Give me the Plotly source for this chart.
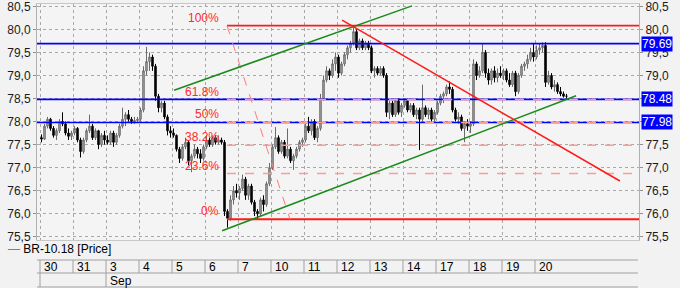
import plotly.graph_objects as go

# ---------------- data ----------------
days = ["30", "31", "3", "4", "5", "6", "7", "10", "11", "12", "13", "14", "17", "18", "19", "20"]
month_labels = ["", "Sep"]
month_first_day = [0, 2]
candles_per_day = 11

opens = [
    77.65, 77.62, 77.9, 78.05, 77.85, 77.7, 77.8, 78.0, 77.95, 77.75, 77.68,
    77.75, 77.85, 77.6, 77.35, 77.6, 77.8, 77.9, 77.65, 77.8, 77.5, 77.7,
    77.6, 77.55, 77.75, 77.55, 77.7, 77.9, 78.05, 78.15, 78.05, 78.0, 78.02,
    78.05, 78.25, 79.1, 79.3, 79.4, 79.2, 78.55, 78.3, 78.4, 78.1, 77.8,
    77.75, 77.7, 77.4, 77.2, 77.45, 77.55, 77.15, 77.25, 77.4, 77.3, 77.2,
    77.45, 77.6, 77.5, 77.65, 77.55, 77.6, 77.55, 76.05, 75.9, 76.3, 76.5,
    76.45, 76.55, 76.75, 76.4, 76.6, 76.25, 76.05, 76.0, 76.3, 76.2, 76.65,
    77.0, 77.45, 77.65, 77.35, 77.55, 77.25, 77.4, 77.15, 77.25, 77.4, 77.55,
    77.6, 77.9, 77.8, 78.0, 77.65, 77.85, 78.5, 78.9, 79.1, 79.0, 79.25,
    79.4, 79.05, 79.25, 79.45, 79.6, 79.7, 79.95, 79.6, 79.75, 79.6, 79.7,
    79.6, 79.1, 79.15, 79.05, 79.15, 79.0, 78.2, 78.4, 78.15, 78.45, 78.2,
    78.35, 78.45, 78.25, 78.35, 78.15, 78.25, 78.05, 78.3, 78.15, 78.25, 78.05,
    78.2, 78.4, 78.55, 78.6, 78.75, 78.7, 78.25, 78.05, 78.1, 77.85, 77.95,
    77.9, 77.95, 79.25, 79.0, 79.1, 79.5, 79.05, 78.9, 79.1, 78.95, 79.05,
    79.0, 79.1, 78.9, 78.8, 79.05, 78.65, 79.0, 79.2, 79.25, 79.35, 79.5,
    79.4, 79.55, 79.6, 79.65, 78.85, 79.0, 78.75, 78.8, 78.65, 78.6, 78.55,
]
highs = [
    77.72, 77.95, 78.1, 78.08, 77.9, 77.85, 78.05, 78.2, 78.0, 77.85, 77.8,
    77.9, 77.88, 77.65, 77.65, 77.85, 78.15, 77.95, 77.85, 77.82, 77.75, 77.8,
    77.7, 77.8, 77.8, 77.75, 77.95, 78.3, 78.2, 78.25, 78.1, 78.1, 78.1,
    78.3, 79.2, 79.62, 79.5, 79.45, 79.25, 78.6, 78.45, 78.45, 78.15, 77.9,
    77.85, 77.72, 77.45, 77.5, 77.65, 77.6, 77.3, 77.5, 77.45, 77.4, 77.5,
    77.7, 77.65, 77.7, 77.7, 77.7, 77.65, 77.6, 76.1, 76.4, 76.6, 76.65,
    76.6, 76.85, 76.8, 76.65, 76.65, 76.3, 76.1, 76.35, 76.4, 76.7, 77.1,
    77.5, 77.88, 77.7, 77.6, 77.6, 77.85, 77.45, 77.3, 77.45, 77.6, 77.65,
    77.95, 78.1, 78.05, 78.05, 77.9, 78.6, 79.0, 79.2, 79.15, 79.35, 79.5,
    79.45, 79.3, 79.5, 79.65, 79.75, 80.07, 80.0, 79.8, 79.8, 79.75, 79.75,
    79.65, 79.2, 79.2, 79.2, 79.2, 79.05, 78.45, 78.45, 78.5, 78.5, 78.4,
    78.5, 78.5, 78.4, 78.4, 78.3, 78.3, 78.8, 78.35, 78.3, 78.3, 78.25,
    78.45, 78.6, 78.65, 78.8, 78.87, 78.75, 78.3, 78.2, 78.15, 78.0, 78.05,
    78.0, 79.35, 79.3, 79.2, 79.7, 79.55, 79.15, 79.15, 79.2, 79.15, 79.2,
    79.15, 79.15, 79.05, 79.1, 79.1, 79.05, 79.25, 79.3, 79.45, 79.6, 79.68,
    79.65, 79.7, 79.72, 79.72, 79.1, 79.05, 78.9, 78.85, 78.75, 78.65, 78.6,
]
lows = [
    77.55, 77.6, 77.85, 77.8, 77.65, 77.6, 77.75, 77.9, 77.7, 77.6, 77.6,
    77.7, 77.55, 77.22, 77.3, 77.55, 77.75, 77.6, 77.6, 77.4, 77.45, 77.5,
    77.5, 77.5, 77.45, 77.5, 77.65, 77.85, 77.9, 78.0, 77.95, 77.95, 77.98,
    78.0, 78.2, 79.0, 79.1, 79.1, 78.45, 78.2, 78.2, 78.05, 77.7, 77.65,
    77.65, 77.35, 77.1, 77.15, 77.4, 77.05, 76.9, 77.2, 77.2, 77.1, 77.15,
    77.4, 77.45, 77.45, 77.5, 77.5, 77.5, 75.95, 75.7, 75.85, 76.2, 76.35,
    76.3, 76.5, 76.3, 76.3, 76.2, 75.95, 75.88, 75.95, 76.05, 76.15, 76.6,
    76.95, 77.4, 77.3, 77.3, 77.2, 77.2, 77.1, 76.95, 77.2, 77.35, 77.45,
    77.55, 77.75, 77.7, 77.6, 77.55, 77.8, 78.45, 78.85, 78.9, 78.95, 79.1,
    78.95, 79.0, 79.2, 79.35, 79.5, 79.65, 79.55, 79.55, 79.55, 79.55, 79.55,
    79.05, 78.95, 79.0, 79.0, 78.95, 78.1, 78.05, 78.1, 78.1, 78.15, 78.1,
    78.3, 78.2, 78.2, 78.1, 78.05, 77.38, 78.0, 78.1, 78.05, 78.0, 78.0,
    78.15, 78.35, 78.4, 78.55, 78.6, 78.2, 78.0, 77.95, 77.8, 77.55, 77.8,
    77.75, 77.9, 78.9, 78.95, 79.05, 78.95, 78.8, 78.8, 78.85, 78.85, 78.95,
    78.9, 78.85, 78.75, 78.75, 78.55, 78.6, 78.95, 79.1, 79.15, 79.3, 79.3,
    79.35, 79.45, 79.5, 78.75, 78.8, 78.7, 78.65, 78.6, 78.55, 78.52, 78.5,
]
closes = [
    77.62, 77.9, 78.05, 77.85, 77.7, 77.8, 78.0, 77.95, 77.75, 77.68, 77.75,
    77.85, 77.6, 77.35, 77.6, 77.8, 77.9, 77.65, 77.8, 77.5, 77.7, 77.6,
    77.55, 77.75, 77.55, 77.7, 77.9, 78.05, 78.15, 78.05, 78.0, 78.02, 78.05,
    78.25, 79.1, 79.3, 79.4, 79.2, 78.55, 78.3, 78.4, 78.1, 77.8, 77.75,
    77.7, 77.4, 77.2, 77.45, 77.55, 77.15, 77.25, 77.4, 77.3, 77.2, 77.45,
    77.6, 77.5, 77.65, 77.55, 77.6, 77.55, 76.05, 75.9, 76.3, 76.5, 76.45,
    76.55, 76.75, 76.4, 76.6, 76.25, 76.05, 76.0, 76.3, 76.2, 76.65, 77.0,
    77.45, 77.65, 77.35, 77.55, 77.25, 77.4, 77.15, 77.25, 77.4, 77.55, 77.6,
    77.9, 77.8, 78.0, 77.65, 77.85, 78.5, 78.9, 79.1, 79.0, 79.25, 79.4,
    79.05, 79.25, 79.45, 79.6, 79.7, 79.95, 79.6, 79.75, 79.6, 79.7, 79.6,
    79.1, 79.15, 79.05, 79.15, 79.0, 78.2, 78.4, 78.15, 78.45, 78.2, 78.35,
    78.45, 78.25, 78.35, 78.15, 78.25, 78.05, 78.3, 78.15, 78.25, 78.05, 78.2,
    78.4, 78.55, 78.6, 78.75, 78.7, 78.25, 78.05, 78.1, 77.85, 77.95, 77.9,
    77.95, 79.25, 79.0, 79.1, 79.5, 79.05, 78.9, 79.1, 78.95, 79.05, 79.0,
    79.1, 78.9, 78.8, 79.05, 78.65, 79.0, 79.2, 79.25, 79.35, 79.5, 79.4,
    79.55, 79.6, 79.65, 78.85, 79.0, 78.75, 78.8, 78.65, 78.6, 78.55, 78.55,
]

# drawings (candle index, price)
blue_levels = [79.69, 78.48, 77.98]
fib_start = (61.83, 80.08)      # 100 %
fib_end = (82.83, 75.88)        # 0 %
fib_ratios = [1.0, 0.618, 0.5, 0.382, 0.236, 0.0]
fib_texts = ["100%", "61.8%", "50%", "38.2%", "23.6%", "0%"]
green_upper = [(44.2, 78.68), (123.5, 80.51)]
green_lower = [(60.2, 75.63), (178.2, 78.56)]
red_trend = [(100.2, 80.2), (192.8, 76.71)]

# ---------------- layout helpers ----------------
W, H = 680, 288
ML, MR, MT, MB = 37, 41, 4, 48
PW, PH = W - ML - MR, H - MT - MB
X_RANGE = [-1.5, -1.5 + PW / 3.0]
Y_RANGE = [75.43, 80.55]


def py(p):  # pixel row -> paper y
    return (MT + PH - p) / PH


def px(p):  # pixel col -> paper x
    return (p - ML) / PW


FONT = "Liberation Sans, Arial, sans-serif"
n = len(closes)
xs = list(range(n))

fig = go.Figure()
fig.add_trace(go.Candlestick(
    x=xs, open=opens, high=highs, low=lows, close=closes,
    increasing=dict(line=dict(color="#6a6a6a", width=1), fillcolor="#b0b0b0"),
    decreasing=dict(line=dict(color="#000000", width=1), fillcolor="#000000"),
    whiskerwidth=0, hoverinfo="skip", showlegend=False,
))
fig.add_trace(go.Scatter(x=[xs[0]], y=[closes[0]], yaxis="y2", mode="markers",
                         marker=dict(opacity=0), hoverinfo="skip", showlegend=False))

shapes = []
annotations = []

# blue horizontal lines + right labels
for lv in blue_levels:
    shapes.append(dict(type="line", xref="paper", yref="y", x0=0, x1=1, y0=lv, y1=lv,
                       line=dict(color="#0000ff", width=1.6)))
    annotations.append(dict(xref="paper", yref="y", x=1, y=lv, xanchor="left", yanchor="middle",
                            xshift=2, text=f"{lv:.2f}", showarrow=False, bgcolor="#0000ff",
                            borderpad=0, font=dict(family=FONT, size=12, color="#ffffff")))

# fibonacci
fh, fl = fib_start[1], fib_end[1]
for r, t in zip(fib_ratios, fib_texts):
    lv = fl + r * (fh - fl)
    solid = r in (0.0, 1.0)
    shapes.append(dict(type="line", xref="x", yref="y", x0=fib_start[0], x1=X_RANGE[1], y0=lv, y1=lv,
                       line=dict(color="#ff1a1a" if solid else "#ff9a9a", width=1.8 if solid else 1.6,
                                 dash="solid" if solid else "dash")))
    annotations.append(dict(xref="x", yref="y", x=fib_start[0], y=lv, xanchor="right", yanchor="bottom",
                            xshift=-6, yshift=-1, text=t, showarrow=False,
                            font=dict(family=FONT, size=12, color="#ff2a2a")))
shapes.append(dict(type="line", xref="x", yref="y", x0=fib_start[0], y0=fib_start[1],
                   x1=fib_end[0], y1=fib_end[1], line=dict(color="#ff7a7a", width=1, dash="dash")))

# trend lines
for seg, col in ((green_upper, "#1a8a1a"), (green_lower, "#1a8a1a"), (red_trend, "#ff1a1a")):
    shapes.append(dict(type="line", xref="x", yref="y", x0=seg[0][0], y0=seg[0][1],
                       x1=seg[1][0], y1=seg[1][1], line=dict(color=col, width=1.5)))

# date strip
line_col = "#a0a0a0"
for yy in (260, 273, 287):
    shapes.append(dict(type="line", xref="paper", yref="paper", x0=0, x1=px(638), y0=py(yy), y1=py(yy),
                       line=dict(color=line_col, width=1)))
for i, d in enumerate(days):
    xv = i * candles_per_day - 0.5
    shapes.append(dict(type="line", xref="x", yref="paper", x0=xv, x1=xv, y0=py(260), y1=py(273),
                       line=dict(color=line_col, width=1)))
    annotations.append(dict(xref="x", yref="paper", x=xv, y=py(267), xanchor="left", yanchor="middle",
                            xshift=2, text=d, showarrow=False,
                            font=dict(family=FONT, size=12, color="#000000")))
for m, di in zip(month_labels, month_first_day):
    xv = di * candles_per_day - 0.5
    shapes.append(dict(type="line", xref="x", yref="paper", x0=xv, x1=xv, y0=py(273), y1=py(287),
                       line=dict(color=line_col, width=1)))
    if m:
        annotations.append(dict(xref="x", yref="paper", x=xv, y=py(280.5), xanchor="left", yanchor="middle",
                                xshift=2, text=m, showarrow=False,
                                font=dict(family=FONT, size=12, color="#000000")))

annotations.append(dict(xref="paper", yref="paper", x=px(6), y=py(249), xanchor="left", yanchor="middle",
                        text="<span style='color:#808080'>—</span> BR-10.18 [Price]", showarrow=False,
                        font=dict(family=FONT, size=12, color="#000000")))

axis_common = dict(range=Y_RANGE, dtick=0.5, tick0=75.5, tickformat=".1f",
                   tickfont=dict(family=FONT, size=12, color="#1a1a1a"),
                   ticks="outside", ticklen=3, tickcolor="#909090", ticklabeloverflow="allow",
                   automargin=False,
                   showline=True, linecolor="#b0b0b0", zeroline=False, fixedrange=True)

fig.update_layout(
    width=W, height=H, margin=dict(l=ML, r=MR, t=MT, b=MB, autoexpand=False),
    paper_bgcolor="#f2f2f2", plot_bgcolor="#f4f4f4",
    separators=", ", showlegend=False, boxgap=0.3,
    xaxis=dict(range=X_RANGE, tickvals=[i * candles_per_day - 0.5 for i in range(len(days))],
               showticklabels=False, ticks="", showgrid=True, gridcolor="#a8a8a8", griddash="dot",
               gridwidth=1, zeroline=False, rangeslider=dict(visible=False), automargin=False,
               showline=True, linecolor="#c8c8c8", mirror=True, fixedrange=True),
    yaxis=dict(side="left", showgrid=True, gridcolor="#a8a8a8", griddash="dot", gridwidth=1, **axis_common),
    yaxis2=dict(side="right", overlaying="y", showgrid=False, **axis_common),
    shapes=shapes, annotations=annotations,
)

fig.write_html("out.html")
